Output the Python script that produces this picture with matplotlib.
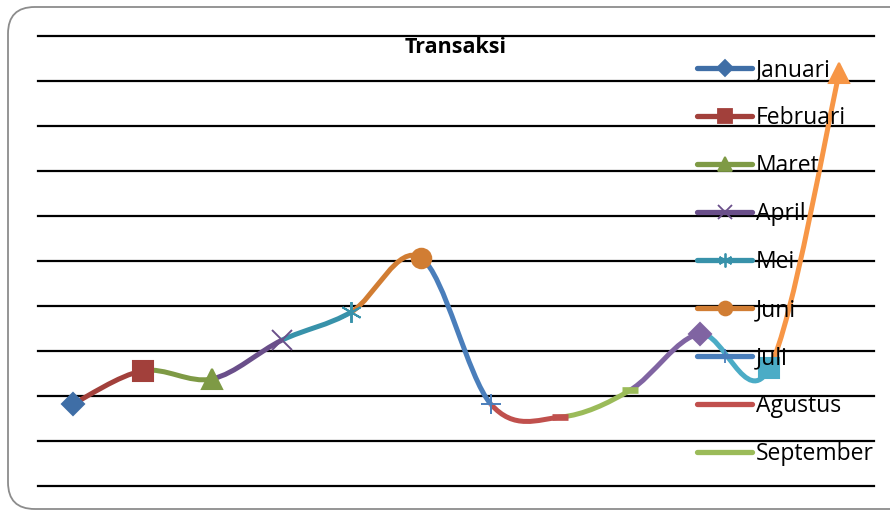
import matplotlib
matplotlib.use("Agg")
import matplotlib.pyplot as plt
from matplotlib.path import Path
from matplotlib.patches import PathPatch, FancyBboxPatch
from matplotlib.lines import Line2D

months = ["Januari", "Februari", "Maret", "April", "Mei", "Juni", "Juli",
          "Agustus", "September", "Oktober", "November", "Desember"]
values = [18.2, 25.6, 23.8, 32.4, 38.7, 50.7, 18.2, 15.3, 21.3, 33.8, 26.2, 91.7]
colors = ["#3f6ea6", "#a2403b", "#7e9a45", "#6a4f8a", "#3892aa", "#d17d33",
          "#4a7ebb", "#c0504d", "#9bbb59", "#8064a2", "#4bacc6", "#f79646"]
markers = ["D", "s", "^", "x", (6, 2, 0), "o", "+", "_", "_", "D", "s", "^"]
legend_count = 9
title = "Transaksi"

W, H = 890, 511
fig = plt.figure(figsize=(W / 100, H / 100), dpi=100)
plt.rcParams['font.family'] = ['Open Sans', 'DejaVu Sans']

# rounded border
border = FancyBboxPatch((8 / W, 2 / H), (W + 20) / W, (H - 9) / H,
                        boxstyle="round,pad=0,rounding_size=0.03",
                        transform=fig.transFigure, facecolor="none",
                        edgecolor="#8c8c8c", linewidth=1.3, mutation_aspect=W / H,
                        zorder=-1)
fig.patches.append(border)

left, right, top, bottom = 38, 874, 36, 486
ax = fig.add_axes([left / W, (H - bottom) / H, (right - left) / W, (bottom - top) / H])
ax.set_facecolor("none")
ax.set_xlim(0.5, len(values) + 0.5)
ax.set_ylim(0, 100)
ax.set_yticks(range(0, 101, 10))
ax.yaxis.grid(True, color="black", linewidth=1.6)
for gl in ax.get_ygridlines():
    gl.set_clip_on(False)
ax.set_axisbelow(True)
ax.tick_params(left=False, bottom=False, labelleft=False, labelbottom=False)
for s in ax.spines.values():
    s.set_visible(False)

xs = list(range(1, len(values) + 1))
n = len(values)

# smoothed segments (cubic Bezier, Catmull-Rom style control points)
for i in range(n - 1):
    p0 = (xs[max(i - 1, 0)], values[max(i - 1, 0)])
    p1 = (xs[i], values[i])
    p2 = (xs[i + 1], values[i + 1])
    p3 = (xs[min(i + 2, n - 1)], values[min(i + 2, n - 1)])
    c1 = (p1[0] + (p2[0] - p0[0]) / 6, p1[1] + (p2[1] - p0[1]) / 6)
    c2 = (p2[0] - (p3[0] - p1[0]) / 6, p2[1] - (p3[1] - p1[1]) / 6)
    path = Path([p1, c1, c2, p2], [Path.MOVETO, Path.CURVE4, Path.CURVE4, Path.CURVE4])
    ax.add_patch(PathPatch(path, facecolor="none", edgecolor=colors[i + 1],
                           linewidth=3.6, capstyle="butt", zorder=3))

# markers
for i in range(n):
    m = markers[i]
    ms = 14
    mew = 1.5
    if m in ("x", "+") or isinstance(m, tuple):
        ms = 15
        mew = 1.4
    if m == "D":
        ms = 11
    if m == "_":
        ms = 12
        mew = 4.8
    ax.plot([xs[i]], [values[i]], marker=m, markersize=ms, color=colors[i],
            markeredgecolor=colors[i], markeredgewidth=mew, linestyle="none", zorder=4)

ax.text(0.5, 0.998, title, transform=ax.transAxes, ha="center", va="top",
        fontsize=15.5, fontweight="bold")

handles = []
for i in range(legend_count):
    m = markers[i]
    ms = 10
    mew = 1.3
    if m == "D":
        ms = 8
    if m == "_":
        m = None
    handles.append(Line2D([0], [0], color=colors[i], linewidth=3.8, marker=m,
                          markersize=ms, markeredgewidth=mew,
                          markeredgecolor=colors[i], solid_capstyle="round"))
leg = fig.legend(handles, months[:legend_count], loc="upper left",
                 bbox_to_anchor=(697 / W, (H - 58) / H), frameon=False,
                 fontsize=16.5, handlelength=2.4, handletextpad=0.17,
                 labelspacing=1.05, borderaxespad=0, borderpad=0)

fig.savefig("out.png", dpi=100)
